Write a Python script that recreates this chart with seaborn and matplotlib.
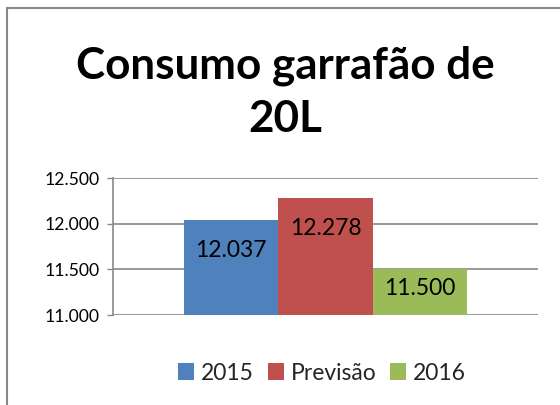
import matplotlib
matplotlib.use("Agg")
import matplotlib.pyplot as plt
import seaborn as sns
import pandas as pd
from matplotlib.ticker import FuncFormatter, MultipleLocator
from matplotlib.lines import Line2D
from matplotlib.patches import Patch

series = ["2015", "Previsão", "2016"]
values = [12037, 12278, 11500]
colors = ["#4F81BD", "#C0504D", "#9BBB59"]
title_lines = ["Consumo garrafão de", "20L"]

sns.set_theme(style="white")
plt.rcParams['font.family'] = ['Lato', 'DejaVu Sans']

df = pd.DataFrame({"grupo": [""] * len(series), "serie": series, "valor": values})

fig = plt.figure(figsize=(5.6, 4.05), dpi=100)
ax = fig.add_axes([113/560, 1 - 315/405, 425/560, 137/405])

sns.barplot(data=df, x="grupo", y="valor", hue="serie", palette=colors,
            hue_order=series, width=0.666, saturation=1, ax=ax, legend=False,
            edgecolor="none", linewidth=0)

ax.set_ylim(11000, 12500)
ax.set_xlim(-0.5, 0.5)
ax.yaxis.set_major_locator(MultipleLocator(500))
ax.yaxis.set_major_formatter(FuncFormatter(lambda v, p: f"{int(v):,}".replace(",", ".")))
ax.set_xlabel("")
ax.set_ylabel("")
ax.set_xticks([])
ax.grid(axis="y", color="#888888", linewidth=1.2, zorder=0)
ax.set_axisbelow(True)
for s in ["top", "right", "bottom"]:
    ax.spines[s].set_visible(False)
ax.spines["left"].set_color("#888888")
ax.spines["left"].set_linewidth(1.2)
ax.tick_params(axis="y", which="major", left=True, length=4.5, width=1.0,
               color="#888888", labelsize=12.7, pad=5, labelcolor="black")

offsets = [-30, -30, -19]
for i, cont in enumerate(ax.containers):
    for p in cont.patches:
        ax.annotate(f"{int(p.get_height()):,}".replace(",", "."),
                    (p.get_x() + p.get_width() / 2, p.get_height()),
                    xytext=(0, offsets[i] * 0.72), textcoords="offset points",
                    ha="center", va="center", fontsize=16.5, color="black")

for line, base in zip(title_lines, [78, 132]):
    fig.text(285/560, 1 - base/405, line, ha="center", va="baseline", fontsize=31.7,
             fontweight="bold", color="black")

handles = [Patch(facecolor=c, edgecolor="none") for c in colors]
fig.legend(handles, series, loc="center", bbox_to_anchor=(322/560, 1 - 373/405),
           ncol=3, frameon=False, fontsize=16.5, handlelength=0.7, handleheight=0.7,
           handletextpad=0.3, columnspacing=0.6, borderpad=0)

# chart border
fig.add_artist(Line2D([6.5/560, 1], [1 - 7.5/405, 1 - 7.5/405], transform=fig.transFigure,
                      color="#888888", linewidth=1.5))
fig.add_artist(Line2D([6.5/560, 6.5/560], [0, 1 - 7.5/405], transform=fig.transFigure,
                      color="#888888", linewidth=1.5))

fig.savefig("out.png", dpi=100)
